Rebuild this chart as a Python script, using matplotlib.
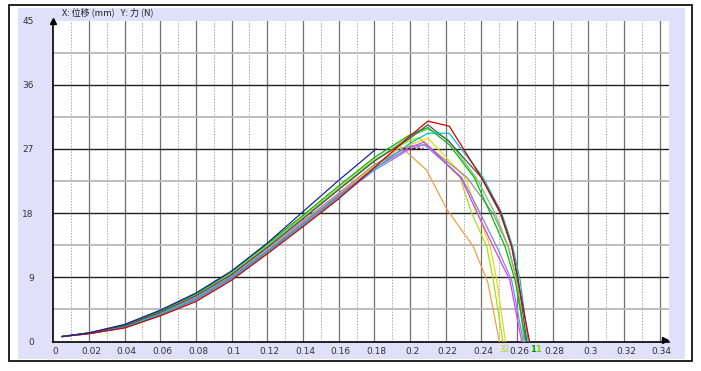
import numpy as np
import matplotlib
matplotlib.use("Agg")
from matplotlib import pyplot as plt
from matplotlib.patches import Rectangle
import matplotlib.transforms as mtransforms

plt.rcParams['font.family'] = ['Liberation Sans Narrow', 'DejaVu Sans']

# rising part, shared x positions (mm)
x_rise = [0.005, 0.02, 0.04, 0.06, 0.08, 0.10, 0.12, 0.14, 0.16, 0.18]

# force (N) on the rising part, one list per specimen
y_red_rise = [0.7, 1.1, 1.9, 3.6, 5.6, 8.6, 12.3, 16.1, 20.0, 24.4]
y_navy_rise = [0.7, 1.2, 2.4, 4.4, 6.8, 9.9, 13.8, 18.2, 22.6, 27.0]
y_green_rise = [0.7, 1.2, 2.3, 4.3, 6.7, 9.8, 13.7, 17.7, 21.8, 25.8]
y_dkgray_rise = [0.7, 1.2, 2.2, 4.1, 6.4, 9.4, 13.2, 17.2, 21.3, 25.3]
y_cyan_rise = [0.7, 1.1, 2.0, 3.8, 5.9, 8.9, 12.6, 16.4, 20.3, 24.2]
y_yellow_rise = [0.7, 1.1, 2.1, 3.9, 6.1, 9.1, 12.8, 16.7, 20.6, 24.6]
y_lime_rise = [0.7, 1.2, 2.3, 4.3, 6.6, 9.6, 13.5, 17.5, 21.5, 25.5]
y_orange_rise = [0.7, 1.1, 1.9, 3.7, 5.8, 8.8, 12.5, 16.4, 20.4, 24.6]
y_magenta_rise = [0.7, 1.1, 2.0, 3.8, 6.0, 9.0, 12.7, 16.6, 20.5, 24.3]
y_slate_rise = [0.7, 1.1, 2.0, 3.7, 5.8, 8.8, 12.5, 16.3, 20.2, 24.0]
y_gray_rise = [0.7, 1.2, 2.2, 4.0, 6.2, 9.2, 13.0, 16.9, 20.8, 24.8]
y_ltgreen_rise = [0.7, 1.2, 2.3, 4.2, 6.5, 9.5, 13.4, 17.3, 21.3, 25.3]

# peak and break part
x_red_tail = [0.20, 0.21, 0.222, 0.240, 0.2505, 0.257, 0.2605, 0.267]
y_red_tail = [28.8, 30.9, 30.2, 23.0, 18.3, 13.3, 8.6, 0.0]
x_navy_tail = [0.181]
y_navy_tail = [27.0]
x_green_tail = [0.20, 0.21, 0.222, 0.236, 0.245, 0.2533, 0.2589, 0.265]
y_green_tail = [29.0, 30.0, 27.6, 23.0, 18.0, 13.3, 8.6, 0.0]
x_dkgray_tail = [0.20, 0.21, 0.222, 0.240, 0.2505, 0.257, 0.2607, 0.2655]
y_dkgray_tail = [28.5, 30.4, 28.0, 23.0, 18.0, 13.3, 8.6, 0.0]
x_cyan_tail = [0.20, 0.21, 0.222, 0.241, 0.2514, 0.2576, 0.2617, 0.2663]
y_cyan_tail = [27.8, 29.2, 29.2, 23.0, 18.0, 13.3, 8.6, 0.0]
x_yellow_tail = [0.20, 0.21, 0.231, 0.238, 0.245, 0.2486, 0.2535]
y_yellow_tail = [27.6, 28.5, 23.0, 18.0, 13.3, 8.6, 0.0]
x_lime_tail = [0.20, 0.205, 0.228, 0.2346, 0.243, 0.2467, 0.252]
y_lime_tail = [28.2, 28.6, 23.0, 18.0, 13.3, 8.6, 0.0]
x_orange_tail = [0.195, 0.2094, 0.2205, 0.2355, 0.2437, 0.2501]
y_orange_tail = [27.3, 24.0, 18.6, 13.3, 8.2, 0.0]
x_magenta_tail = [0.20, 0.208, 0.2285, 0.2377, 0.2467, 0.256, 0.2626]
y_magenta_tail = [27.2, 28.0, 23.0, 18.0, 13.3, 8.6, 0.0]
x_slate_tail = [0.20, 0.208, 0.229, 0.2393, 0.2486, 0.257, 0.2635]
y_slate_tail = [27.0, 27.6, 23.0, 18.0, 13.3, 8.6, 0.0]
x_gray_tail = [0.20, 0.209, 0.232, 0.2465, 0.2551, 0.2598, 0.2645]
y_gray_tail = [27.4, 27.6, 23.0, 18.0, 13.3, 8.6, 0.0]
x_ltgreen_tail = [0.20, 0.21, 0.221, 0.237, 0.2477, 0.2551, 0.2598, 0.264]
y_ltgreen_tail = [28.8, 29.8, 28.4, 23.0, 18.0, 13.3, 8.6, 0.0]

x_dash = [0.196, 0.2075]
y_dash = [27.0, 27.1]

x_ticks = [0, 0.02, 0.04, 0.06, 0.08, 0.1, 0.12, 0.14, 0.16, 0.18, 0.2, 0.22,
           0.24, 0.26, 0.28, 0.3, 0.32, 0.34]
x_ticklabels = ['0', '0.02', '0.04', '0.06', '0.08', '0.1', '0.12', '0.14', '0.16',
                '0.18', '0.2', '0.22', '0.24', '0.26', '0.28', '0.3', '0.32', '0.34']
y_ticks = [0, 9, 18, 27, 36, 45]

curves = [
    (y_orange_rise, x_orange_tail, y_orange_tail, '#f0a040'),
    (y_yellow_rise, x_yellow_tail, y_yellow_tail, '#e0e000'),
    (y_lime_rise, x_lime_tail, y_lime_tail, '#a0e020'),
    (y_gray_rise, x_gray_tail, y_gray_tail, '#909090'),
    (y_slate_rise, x_slate_tail, y_slate_tail, '#8080ff'),
    (y_magenta_rise, x_magenta_tail, y_magenta_tail, '#e040e0'),
    (y_ltgreen_rise, x_ltgreen_tail, y_ltgreen_tail, '#60d060'),
    (y_green_rise, x_green_tail, y_green_tail, '#10b010'),
    (y_dkgray_rise, x_dkgray_tail, y_dkgray_tail, '#505050'),
    (y_cyan_rise, x_cyan_tail, y_cyan_tail, '#00c0c0'),
    (y_red_rise, x_red_tail, y_red_tail, '#cc0000'),
]

fig = plt.figure(figsize=(7.01, 3.71), dpi=100)
W, H = 701.0, 371.0

# frame and lavender panel (behind the axes)
fig.patches.append(Rectangle((9 / W, 1 - 361 / H), 683 / W, 356 / H, transform=fig.transFigure,
                             facecolor='white', edgecolor='black', lw=1.2, zorder=-3))
fig.patches.append(Rectangle((18 / W, 1 - 359 / H), 667 / W, 351 / H, transform=fig.transFigure,
                             facecolor='#e0e0fa', edgecolor='none', zorder=-2))

ax = fig.add_axes([53.3 / W, 1 - 341.5 / H, (669 - 53.3) / W, (341.5 - 20.6) / H])
ax.set_facecolor('white')
ax.set_xlim(0, 0.3452)
ax.set_ylim(0, 45)

# grid
for i in range(1, 35):
    xv = i * 0.01
    if i % 2 == 0:
        ax.axvline(xv, color='#707070', lw=0.9, zorder=1)
    else:
        ax.axvline(xv, color='#a8a8a8', lw=0.7, ls=(0, (1.5, 1.5)), zorder=1)
for i in range(1, 10):
    yv = i * 4.5
    if i % 2 == 0:
        ax.axhline(yv, color='#202020', lw=1.0, zorder=1)
    else:
        ax.axhline(yv, color='#b8b8b8', lw=1.3, zorder=1)

for y_rise, x_tail, y_tail, col in curves:
    ax.plot(x_rise + x_tail, y_rise + y_tail, color=col, lw=0.9, zorder=3)
ax.plot(x_rise[:-1] + x_navy_tail, y_navy_rise[:-1] + y_navy_tail, color='#2020a0', lw=0.9, zorder=3)
ax.plot(x_dash, y_dash, color='#800000', lw=1.0, ls=(0, (2, 1.5)), zorder=3)

ax.set_xticks(x_ticks)
ax.set_xticklabels(x_ticklabels)
ax.set_yticks(y_ticks)
ax.tick_params(length=0, labelsize=6.5, colors='#303030')
ax.tick_params(axis='y', pad=14)
ax.tick_params(axis='x', pad=4)
shift = mtransforms.ScaledTranslation(2 / 100, 0, fig.dpi_scale_trans)
for lab in ax.get_xticklabels():
    lab.set_transform(lab.get_transform() + shift)
for s in ['top', 'right']:
    ax.spines[s].set_visible(False)
ax.spines['left'].set_linewidth(1.2)
ax.spines['bottom'].set_linewidth(1.2)

# axis arrows
ax.plot([0], [1], marker='^', color='black', markersize=5, transform=ax.transAxes, clip_on=False, zorder=5)
ax.plot([0.993], [0.005], marker='>', color='black', markersize=5, transform=ax.transAxes, clip_on=False, zorder=5)

fig.text(62 / W, 1 - 12 / H, 'X: 位移 (mm)   Y: 力 (N)', fontsize=6.5, va='center', ha='left',
         family=['Noto Sans CJK SC', 'DejaVu Sans'], color='#202020')

# specimen numbers at the break points
fig.text(499 / W, 1 - 349 / H, '3', fontsize=6, color='#d0d000', va='center')
fig.text(503.5 / W, 1 - 349 / H, '2', fontsize=6, color='#a0e040', va='center')
fig.text(530.5 / W, 1 - 349 / H, '1', fontsize=6, color='#00a000', va='center', fontweight='bold')
fig.text(535.5 / W, 1 - 349 / H, '1', fontsize=6, color='#80d000', va='center', fontweight='bold')

plt.savefig('out.png', dpi=100)
